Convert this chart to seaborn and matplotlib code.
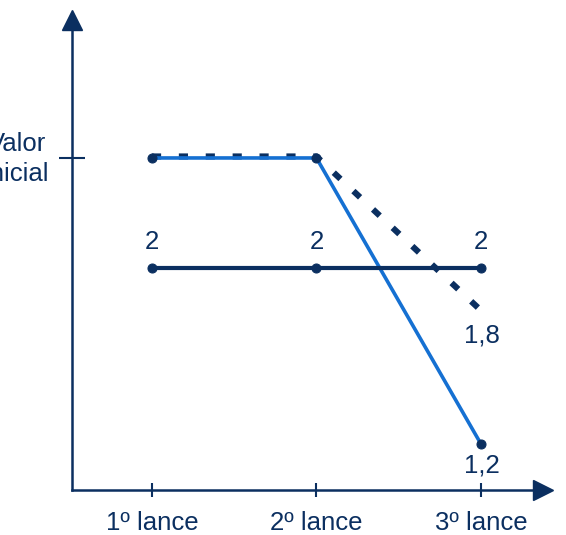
import matplotlib
matplotlib.use("Agg")
import matplotlib.pyplot as plt
import matplotlib.transforms as mtransforms
import seaborn as sns
import pandas as pd

sns.set_theme(style="white")
plt.rcParams["font.family"] = ["Liberation Sans", "DejaVu Sans"]

NAVY = "#0b2f60"
BLUE = "#1570d2"

lances = ["1º lance", "2º lance", "3º lance"]
valor_inicial = 2.5
serie_constante = [2, 2, 2]
serie_queda = [valor_inicial, valor_inicial, 1.2]
serie_pontilhada = [valor_inicial, valor_inicial, 1.8]

pos = list(range(len(lances)))
df = pd.DataFrame({
    "pos": pos * 3,
    "valor": serie_constante + serie_queda + serie_pontilhada,
    "serie": ["constante"] * 3 + ["queda"] * 3 + ["pontilhada"] * 3,
})

fig = plt.figure(figsize=(5.66, 5.35), dpi=100)
W, H = 566, 535
ax = fig.add_axes([72 / W, (H - 490) / H, (543 - 72) / W, (490 - 20) / H])
ax.set_xlim(-0.486, 2.377)
ax.set_ylim(0.991, 3.127)

# dashed series, nudged up slightly so it peeks above the solid blue line
sub = df[df.serie == "pontilhada"]
sns.lineplot(data=sub, x="pos", y="valor", ax=ax, color=NAVY, lw=4.4,
             legend=False, estimator=None, sort=False)
dash_line = ax.lines[-1]
dash_line.set_dashes([1.5, 2.9])
dash_line.set_dash_capstyle("butt")
dash_line.set_transform(mtransforms.offset_copy(ax.transData, fig=fig, x=0, y=1.5, units="dots"))
dash_line.set_zorder(2)

sub = df[df.serie == "queda"]
sns.lineplot(data=sub, x="pos", y="valor", ax=ax, color=BLUE, lw=2.6,
             marker="o", markersize=6.5, markerfacecolor=NAVY, markeredgecolor=NAVY,
             legend=False, estimator=None, sort=False)
ax.lines[-1].set_zorder(3)

sub = df[df.serie == "constante"]
sns.lineplot(data=sub, x="pos", y="valor", ax=ax, color=NAVY, lw=3.0,
             marker="o", markersize=6.5, markerfacecolor=NAVY, markeredgecolor=NAVY,
             legend=False, estimator=None, sort=False)
ax.lines[-1].set_zorder(4)

fs = 18.5
for x, v in zip(pos, serie_constante):
    ax.annotate(f"{v}".replace(".", ","), (x, v), xytext=(0, 10), textcoords="offset points",
                ha="center", va="bottom", color=NAVY, fontsize=fs)
ax.annotate(f"{serie_pontilhada[-1]}".replace(".", ","), (pos[-1], serie_pontilhada[-1]),
            xytext=(1, -8), textcoords="offset points", ha="center", va="top",
            color=NAVY, fontsize=fs)
ax.annotate(f"{serie_queda[-1]}".replace(".", ","), (pos[-1], serie_queda[-1]),
            xytext=(1, -7), textcoords="offset points", ha="center", va="top",
            color=NAVY, fontsize=fs)

# axes: only left and bottom spines, with arrow heads
for s in ["top", "right"]:
    ax.spines[s].set_visible(False)
for s in ["left", "bottom"]:
    ax.spines[s].set_color(NAVY)
    ax.spines[s].set_linewidth(1.8)
ax.plot([1], [0], marker=">", color=NAVY, markersize=14, transform=ax.transAxes,
        clip_on=False, zorder=5)
ax.plot([0], [1], marker="^", color=NAVY, markersize=14, transform=ax.transAxes,
        clip_on=False, zorder=5)

ax.set_xticks(pos)
ax.set_xticklabels(lances, fontsize=fs, color=NAVY)
ax.tick_params(axis="x", direction="inout", length=10, width=1.5, color=NAVY, pad=10, bottom=True)
ax.set_yticks([valor_inicial])
ax.set_yticklabels([""])
ax.tick_params(axis="y", direction="inout", length=19, width=1.5, color=NAVY, left=True)
ax.set_xlabel("")
ax.set_ylabel("")
ax.grid(False)

fig.text(17 / W, 1 - 159 / H, "Valor\ninicial", ha="center", va="center",
         fontsize=fs, color=NAVY, linespacing=1.35)

fig.savefig("out.png", dpi=100)
